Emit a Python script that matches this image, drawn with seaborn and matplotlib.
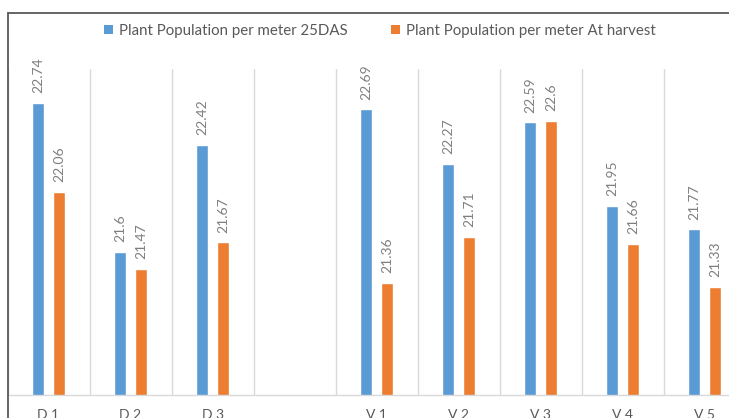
import matplotlib
matplotlib.use("Agg")
import matplotlib.pyplot as plt
import seaborn as sns
import pandas as pd
from matplotlib.lines import Line2D
from matplotlib.patches import Patch
from matplotlib.ticker import FixedLocator

# Treatments (a blank slot separates the D and V groups on the axis)
categories = ["D 1", "D 2", "D 3", "V 1", "V 2", "V 3", "V 4", "V 5"]
axis_order = ["D 1", "D 2", "D 3", " ", "V 1", "V 2", "V 3", "V 4", "V 5"]

pop_25das = [22.74, 21.6, 22.42, 22.69, 22.27, 22.59, 21.95, 21.77]
pop_harvest = [22.06, 21.47, 21.67, 21.36, 21.71, 22.6, 21.66, 21.33]

series_names = ["Plant Population per meter 25DAS",
                "Plant Population per meter At harvest"]
series_colors = ["#5B9BD5", "#ED7D31"]

df = pd.DataFrame({
    "Treatment": categories * 2,
    "Population": pop_25das + pop_harvest,
    "Series": [series_names[0]] * len(categories) + [series_names[1]] * len(categories),
})

sns.set_theme(style="white")
plt.rcParams["font.family"] = ["Lato", "DejaVu Sans"]

W, H = 729, 418
fig = plt.figure(figsize=(W / 100, H / 100), dpi=100)
ax = fig.add_axes([7.5 / W, (H - 395) / H, 738 / W, (395 - 69) / H])

sns.barplot(data=df, x="Treatment", y="Population", hue="Series",
            order=axis_order, hue_order=series_names, palette=series_colors,
            width=0.51, gap=0.43, saturation=1, legend=False, ax=ax)

for container in ax.containers:
    ax.bar_label(container, fmt="{:g}", rotation=90, padding=7,
                 color="#7F7F7F", fontsize=10, clip_on=False)

ax.set_ylim(20.5, 23)
ax.set_xlim(-0.5, len(axis_order) - 0.5)
ax.set_xlabel("")
ax.set_ylabel("")
ax.set_yticks([])

# category separators
ax.xaxis.set_minor_locator(FixedLocator([i - 0.5 for i in range(len(axis_order) + 1)]))
ax.grid(True, which="minor", axis="x", color="#D9D9D9", lw=1)
ax.tick_params(axis="x", which="both", length=0, pad=10, labelsize=10, labelcolor="#595959")

for side in ["left", "right", "top"]:
    ax.spines[side].set_visible(False)
ax.spines["bottom"].set_color("#D9D9D9")
ax.spines["bottom"].set_linewidth(1)

handles = [Patch(facecolor=c, edgecolor="none") for c in series_colors]
fig.legend(handles, series_names, loc="center", bbox_to_anchor=(380 / W, 1 - 31 / H),
           ncol=2, frameon=False, fontsize=10.8, labelcolor="#595959",
           handlelength=0.6, handleheight=0.6, handletextpad=0.4, columnspacing=2.9)

# chart frame
fig.add_artist(Line2D([7.5 / W, 1], [1 - 12.5 / H] * 2, transform=fig.transFigure,
                      color="#595959", lw=1.3))
fig.add_artist(Line2D([7.5 / W] * 2, [0, 1 - 12.5 / H], transform=fig.transFigure,
                      color="#595959", lw=1.3))

fig.savefig("out.png", dpi=100, facecolor="white")
